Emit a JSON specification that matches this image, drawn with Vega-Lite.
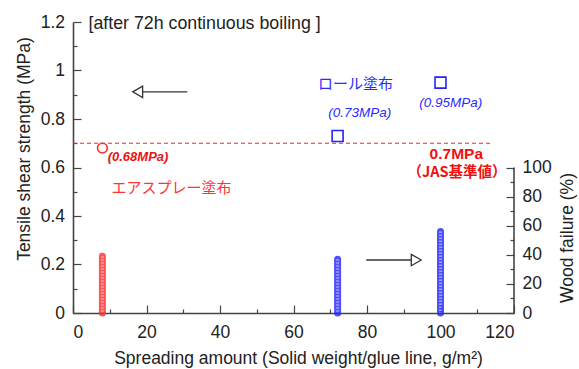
{
  "$schema": "https://vega.github.io/schema/vega-lite/v6.json",
  "width": 441,
  "height": 291,
  "autosize": {"type": "none"},
  "padding": {"left": 73, "top": 22, "right": 65, "bottom": 56},
  "background": "white",
  "config": {
    "view": {"stroke": null},
    "font": "Liberation Sans",
    "axis": {
      "grid": false,
      "domainColor": "#444444",
      "domainWidth": 1.6,
      "tickColor": "#444444",
      "tickWidth": 1.2,
      "labelFont": "Liberation Sans",
      "labelFontSize": 17.5,
      "labelColor": "#222222",
      "titleFont": "Liberation Sans",
      "titleFontSize": 17.5,
      "titleFontWeight": "normal",
      "titleColor": "#222222"
    }
  },
  "datasets": {
    "strength": [
      {"x": 8, "y": 0.68, "method": "spray"},
      {"x": 72, "y": 0.73, "method": "roll"},
      {"x": 100, "y": 0.95, "method": "roll"}
    ],
    "failure": [
      {"x": 8, "y": 39, "method": "spray"},
      {"x": 72, "y": 37, "method": "roll"},
      {"x": 100, "y": 56, "method": "roll"}
    ],
    "jas": [{"x": 0, "x2": 113.5, "y": 0.7}],
    "notes": [
      {"x": 4.2, "y": 1.19, "text": "[after 72h continuous boiling ]", "kind": "heading"},
      {"x": 76.9, "y": 0.945, "text": "ロール塗布", "kind": "roll"},
      {"x": 26.8, "y": 0.514, "text": "エアスプレー塗布", "kind": "spray"},
      {"x": 78, "y": 0.824, "text": "(0.73MPa)", "kind": "roll-value"},
      {"x": 102.8, "y": 0.8675, "text": "(0.95MPa)", "kind": "roll-value"},
      {"x": 17.7, "y": 0.644, "text": "(0.68MPa)", "kind": "spray-value"},
      {"x": 104.3, "y": 0.656, "text": "0.7MPa", "kind": "jas-value"},
      {"x": 104.5, "y": 0.576, "text": "（JAS基準値）", "kind": "jas"}
    ],
    "arrowLeft": [{"x": 31.1, "x2": 18.5, "y": 0.912}],
    "arrowLeftHead": [{"x": 17.6, "y": 0.912}],
    "arrowRight": [{"x": 79.8, "x2": 92, "y": 36.4}],
    "arrowRightHead": [{"x": 93.4, "y": 36.4}],
    "rightSpine": [{"x": 120, "y": 0, "y2": 100}]
  },
  "encoding": {
    "x": {
      "field": "x",
      "type": "quantitative",
      "scale": {"domain": [0, 120], "nice": false, "zero": false},
      "axis": {
        "title": "Spreading amount (Solid weight/glue line, g/m²)",
        "values": [0, 10, 20, 30, 40, 50, 60, 70, 80, 90, 100, 110, 120],
        "labelExpr": "datum.value % 20 == 0 ? datum.label : ''",
        "tickSize": {"condition": {"test": "datum.value % 20 == 0", "value": -8}, "value": -4},
        "labelPadding": 18,
        "titleX": 225,
        "titleY": 45.5,
        "titleBaseline": "middle",
        "titleAlign": "center"
      }
    }
  },
  "layer": [
    {
      "encoding": {
        "y": {
          "field": "y",
          "type": "quantitative",
          "scale": {"domain": [0, 1.2], "nice": false},
          "axis": {
            "orient": "left",
            "title": "Tensile shear strength (MPa)",
            "values": [0, 0.1, 0.2, 0.3, 0.4, 0.5, 0.6, 0.7, 0.8, 0.9, 1, 1.1, 1.2],
            "labelExpr": "round(datum.value * 10) % 2 == 0 ? format(datum.value, '~g') : ''",
            "tickSize": {"condition": {"test": "round(datum.value * 10) % 2 == 0", "value": -8}, "value": -4},
            "labelPadding": 16.5,
            "titleX": -49,
            "titleY": 126.5,
            "titleBaseline": "middle",
            "titleAlign": "center",
            "titleAngle": -90
          }
        }
      },
      "layer": [
        {
          "data": {"name": "jas"},
          "mark": {"type": "rule", "color": "#ff2020", "strokeWidth": 1.2, "strokeDash": [4, 3]},
          "encoding": {"x2": {"field": "x2"}}
        },
        {
          "data": {"name": "strength"},
          "mark": {"type": "point", "filled": false, "strokeWidth": 1.6, "opacity": 1},
          "encoding": {
            "shape": {"field": "method", "type": "nominal", "scale": {"domain": ["spray", "roll"], "range": ["circle", "square"]}, "legend": null},
            "size": {"field": "method", "type": "nominal", "scale": {"domain": ["spray", "roll"], "range": [95, 120]}, "legend": null},
            "color": {"field": "method", "type": "nominal", "scale": {"domain": ["spray", "roll"], "range": ["#ff2b2b", "#2323ff"]}, "legend": null}
          }
        },
        {
          "data": {"name": "arrowLeft"},
          "mark": {"type": "rule", "color": "#333333", "strokeWidth": 1.4},
          "encoding": {"x2": {"field": "x2"}}
        },
        {
          "data": {"name": "arrowLeftHead"},
          "mark": {"type": "point", "shape": "triangle-left", "filled": true, "fill": "white", "stroke": "#333333", "strokeWidth": 1.3, "size": 130, "opacity": 1}
        },
        {
          "data": {"name": "notes"},
          "transform": [{"filter": "datum.kind == 'heading'"}],
          "mark": {"type": "text", "align": "left", "baseline": "middle", "fontSize": 17.8, "color": "#222222", "font": "Liberation Sans"},
          "encoding": {"text": {"field": "text"}}
        },
        {
          "data": {"name": "notes"},
          "transform": [{"filter": "datum.kind == 'roll'"}],
          "mark": {"type": "text", "align": "center", "baseline": "middle", "fontSize": 15, "color": "#2a2aff", "font": "Noto Sans CJK JP"},
          "encoding": {"text": {"field": "text"}}
        },
        {
          "data": {"name": "notes"},
          "transform": [{"filter": "datum.kind == 'spray'"}],
          "mark": {"type": "text", "align": "center", "baseline": "middle", "fontSize": 15, "color": "#ff3333", "font": "Noto Sans CJK JP"},
          "encoding": {"text": {"field": "text"}}
        },
        {
          "data": {"name": "notes"},
          "transform": [{"filter": "datum.kind == 'roll-value'"}],
          "mark": {"type": "text", "align": "center", "baseline": "middle", "fontSize": 13.5, "fontStyle": "italic", "color": "#2a2aff", "font": "Liberation Sans"},
          "encoding": {"text": {"field": "text"}}
        },
        {
          "data": {"name": "notes"},
          "transform": [{"filter": "datum.kind == 'spray-value'"}],
          "mark": {"type": "text", "align": "center", "baseline": "middle", "fontSize": 13, "fontStyle": "italic", "fontWeight": "bold", "color": "#f01010", "font": "Liberation Sans"},
          "encoding": {"text": {"field": "text"}}
        },
        {
          "data": {"name": "notes"},
          "transform": [{"filter": "datum.kind == 'jas-value'"}],
          "mark": {"type": "text", "align": "center", "baseline": "middle", "fontSize": 15.5, "fontWeight": "bold", "color": "#f01010", "font": "Liberation Sans"},
          "encoding": {"text": {"field": "text"}}
        },
        {
          "data": {"name": "notes"},
          "transform": [{"filter": "datum.kind == 'jas'"}],
          "mark": {"type": "text", "align": "center", "baseline": "middle", "fontSize": 14.5, "fontWeight": "bold", "color": "#f01010", "font": "Noto Sans CJK JP"},
          "encoding": {"text": {"field": "text"}}
        }
      ]
    },
    {
      "encoding": {
        "y": {
          "field": "y",
          "type": "quantitative",
          "scale": {"domain": [0, 200], "nice": false},
          "axis": {
            "orient": "right",
            "title": "Wood failure (%)",
            "domain": false,
            "values": [0, 10, 20, 30, 40, 50, 60, 70, 80, 90, 100],
            "labelExpr": "datum.value % 20 == 0 ? datum.label : ''",
            "tickSize": {"condition": {"test": "datum.value % 20 == 0", "value": -8}, "value": -4},
            "labelPadding": 16,
            "titleX": 53.3,
            "titleY": 215.5,
            "titleBaseline": "middle",
            "titleAlign": "center",
            "titleAngle": -90
          }
        }
      },
      "layer": [
        {
          "data": {"name": "rightSpine"},
          "mark": {"type": "rule", "color": "#444444", "strokeWidth": 1.6},
          "encoding": {"y2": {"field": "y2"}}
        },
        {
          "data": {"name": "failure"},
          "mark": {"type": "rule", "strokeWidth": 7, "strokeCap": "round", "opacity": 0.8},
          "encoding": {
            "y2": {"datum": 0},
            "color": {"field": "method", "type": "nominal", "scale": {"domain": ["spray", "roll"], "range": ["#ff2b2b", "#2323ff"]}, "legend": null}
          }
        },
        {
          "data": {"name": "failure"},
          "mark": {"type": "rule", "strokeWidth": 3, "strokeDash": [1.5, 1.5], "color": "white", "opacity": 0.45},
          "encoding": {"y2": {"datum": 0}}
        },
        {
          "data": {"name": "arrowRight"},
          "mark": {"type": "rule", "color": "#333333", "strokeWidth": 1.4},
          "encoding": {"x2": {"field": "x2"}}
        },
        {
          "data": {"name": "arrowRightHead"},
          "mark": {"type": "point", "shape": "triangle-right", "filled": true, "fill": "white", "stroke": "#333333", "strokeWidth": 1.3, "size": 130, "opacity": 1}
        }
      ]
    }
  ],
  "resolve": {"scale": {"y": "independent"}, "axis": {"y": "independent"}}
}
